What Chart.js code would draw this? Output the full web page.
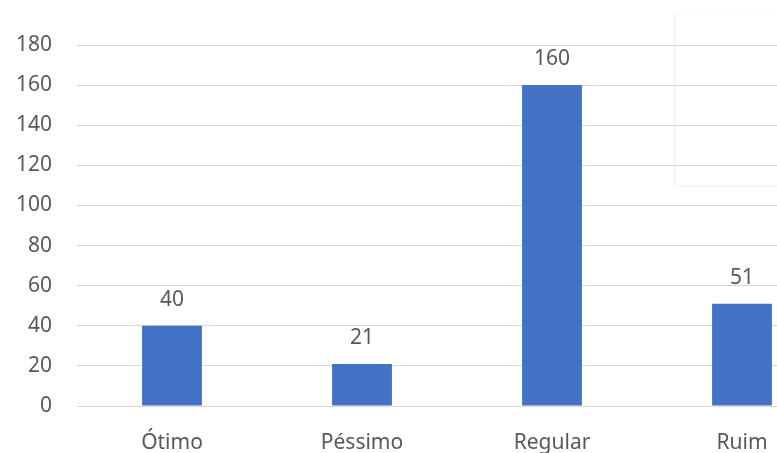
<!DOCTYPE html>
<html lang="pt">
<head>
  <meta charset="UTF-8">
  <title>Avaliação</title>
  <script src="https://cdn.jsdelivr.net/npm/chart.js"></script>
  <style>
    html, body { margin: 0; padding: 0; overflow: hidden; background: #fff; }
    #wrap { position: relative; width: 840px; height: 453px; }
    #legendBox {
      position: absolute; left: 676px; top: 12px; width: 140px; height: 173px;
      box-shadow: -1px 1px 4px rgba(0,0,0,0.07);
      pointer-events: none;
    }
  </style>
</head>
<body>
  <div id="wrap">
    <canvas id="barChart" width="840" height="453"></canvas>
    <div id="legendBox"></div>
  </div>

  <script>
    const categorias = ['Ótimo', 'Péssimo', 'Regular', 'Ruim'];
    const valores = [40, 21, 160, 51];
    const yTicks = { min: 0, max: 180, step: 20 };

    const corTexto = '#595959';
    const fonte = { family: "'Noto Sans', 'Open Sans', sans-serif", size: 21 };

    // rótulos de valor acima das barras
    const rotulos = {
      id: 'rotulos',
      afterDatasetsDraw(chart) {
        const ctx = chart.ctx;
        const meta = chart.getDatasetMeta(0);
        ctx.save();
        ctx.fillStyle = corTexto;
        ctx.font = `${fonte.size}px ${fonte.family}`;
        ctx.textAlign = 'center';
        ctx.textBaseline = 'middle';
        meta.data.forEach((bar, i) => {
          ctx.fillText(valores[i], bar.x, bar.y - 26);
        });
        ctx.restore();
      }
    };

    new Chart(document.getElementById('barChart'), {
      type: 'bar',
      data: {
        labels: categorias,
        datasets: [{
          data: valores,
          backgroundColor: '#4472C4',
          borderWidth: 0,
          categoryPercentage: 1,
          barPercentage: 0.315
        }]
      },
      options: {
        responsive: false,
        animation: false,
        layout: { padding: { top: 45, right: 3, bottom: 0, left: 0 } },
        plugins: {
          legend: { display: false },
          tooltip: { enabled: false }
        },
        scales: {
          x: {
            grid: { display: false, drawTicks: false },
            border: { display: false },
            ticks: { color: corTexto, font: fonte, padding: 24 },
            afterFit(scale) { scale.height = 47; }
          },
          y: {
            min: yTicks.min,
            max: yTicks.max,
            grid: { color: '#d9d9d9', lineWidth: 1, drawTicks: false },
            border: { display: false },
            ticks: { stepSize: yTicks.step, color: corTexto, font: fonte, padding: 25 },
            afterFit(scale) { scale.width = 77; }
          }
        }
      },
      plugins: [rotulos]
    });
  </script>
</body>
</html>
